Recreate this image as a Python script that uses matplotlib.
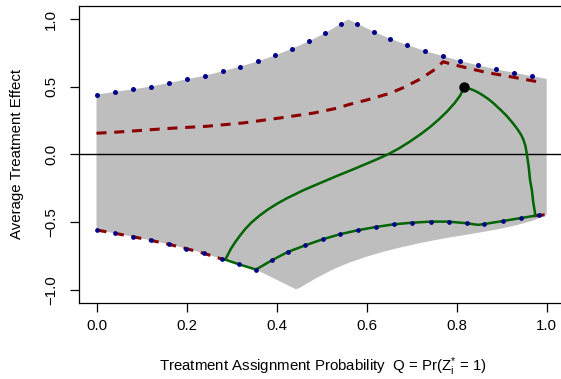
import matplotlib
matplotlib.use("Agg")
import matplotlib.pyplot as plt

plt.rcParams['font.family'] = ['Liberation Sans', 'DejaVu Sans']
plt.rcParams['mathtext.fontset'] = 'custom'
plt.rcParams['mathtext.rm'] = 'Liberation Sans'
plt.rcParams['mathtext.it'] = 'Liberation Sans'
plt.rcParams['lines.scale_dashes'] = False

# ---- data ----
# gray region: upper boundary (left -> right)
region_upper_x = [0.0, 0.040, 0.080, 0.120, 0.161, 0.200, 0.240, 0.280, 0.319, 0.359, 0.397,
                  0.435, 0.472, 0.508, 0.543, 0.559, 0.579, 0.616, 0.652, 0.690, 0.730,
                  0.769, 0.808, 0.847, 0.887, 0.927, 0.967, 1.0]
region_upper_y = [0.442, 0.462, 0.481, 0.501, 0.528, 0.555, 0.582, 0.614, 0.649, 0.688, 0.732,
                  0.782, 0.836, 0.897, 0.966, 0.998, 0.966, 0.907, 0.855, 0.809, 0.764,
                  0.727, 0.690, 0.659, 0.629, 0.604, 0.578, 0.558]
# gray region: lower boundary (left -> right)
region_lower_x = [0.0, 0.040, 0.080, 0.120, 0.160, 0.199, 0.238, 0.278, 0.317, 0.354, 0.400,
                  0.443, 0.452, 0.489, 0.526, 0.563, 0.600, 0.637, 0.674, 0.711, 0.748,
                  0.785, 0.822, 0.859, 0.896, 0.933, 0.970, 1.0]
region_lower_y = [-0.558, -0.582, -0.607, -0.634, -0.663, -0.695, -0.730, -0.772, -0.812, -0.850, -0.925,
                  -0.996, -0.984, -0.912, -0.848, -0.797, -0.755, -0.719, -0.688, -0.660, -0.635,
                  -0.613, -0.593, -0.572, -0.550, -0.522, -0.488, -0.447]

# blue dotted bounds
upper_dots_x = [0.0, 0.040, 0.080, 0.120, 0.161, 0.200, 0.240, 0.280, 0.319, 0.359, 0.397,
                0.435, 0.472, 0.508, 0.543, 0.579, 0.616, 0.652, 0.690, 0.730, 0.769,
                0.808, 0.847, 0.887, 0.927, 0.967]
upper_dots_y = [0.442, 0.462, 0.481, 0.501, 0.528, 0.555, 0.582, 0.614, 0.649, 0.688, 0.732,
                0.782, 0.836, 0.897, 0.966, 0.966, 0.907, 0.855, 0.809, 0.764, 0.727,
                0.690, 0.659, 0.629, 0.604, 0.578]
lower_dots_x = [0.0, 0.040, 0.080, 0.120, 0.160, 0.199, 0.238, 0.278, 0.317, 0.354, 0.390,
                0.425, 0.463, 0.502, 0.541, 0.580, 0.620, 0.660, 0.701, 0.742, 0.782,
                0.822, 0.861, 0.902, 0.942, 0.984]
lower_dots_y = [-0.558, -0.582, -0.607, -0.634, -0.663, -0.695, -0.730, -0.772, -0.812, -0.850, -0.781,
                -0.720, -0.672, -0.627, -0.589, -0.560, -0.536, -0.516, -0.504, -0.496, -0.496,
                -0.508, -0.514, -0.492, -0.470, -0.449]

# red dashed bounds
red_upper_x = [0.0, 0.040, 0.163, 0.244, 0.326, 0.408, 0.482, 0.533, 0.563, 0.600, 0.652,
               0.681, 0.718, 0.752, 0.770, 0.785, 0.826, 0.867, 0.907, 0.948, 0.992]
red_upper_y = [0.157, 0.164, 0.193, 0.208, 0.233, 0.270, 0.306, 0.341, 0.371, 0.402, 0.452,
               0.493, 0.555, 0.629, 0.685, 0.670, 0.637, 0.605, 0.582, 0.557, 0.530]
red_lower_x = [0.0, 0.040, 0.080, 0.120, 0.160, 0.199, 0.238, 0.278, 0.286]
red_lower_y = [-0.558, -0.582, -0.607, -0.634, -0.663, -0.695, -0.730, -0.772, -0.777]
red_end_x = [0.975, 0.992]
red_end_y = [-0.452, -0.447]

# green path: lower segment, right branch up to the point, left branch back down
green_x = [0.286, 0.317, 0.354, 0.390, 0.425, 0.463, 0.502, 0.541, 0.580, 0.620, 0.660,
           0.701, 0.742, 0.782, 0.822, 0.848, 0.861, 0.902, 0.942, 0.975,
           0.970, 0.967, 0.963, 0.960, 0.956, 0.953, 0.948, 0.942, 0.935, 0.927, 0.919,
           0.910, 0.900, 0.891, 0.882, 0.871, 0.860, 0.849, 0.838, 0.827, 0.817,
           0.807, 0.795, 0.778, 0.760, 0.741, 0.720, 0.696, 0.672, 0.648, 0.622,
           0.600, 0.570, 0.533, 0.496, 0.459, 0.422, 0.400, 0.380, 0.362, 0.345,
           0.331, 0.319, 0.308, 0.298, 0.286]
green_y = [-0.777, -0.812, -0.850, -0.781, -0.720, -0.672, -0.627, -0.589, -0.560, -0.536, -0.516,
           -0.504, -0.496, -0.496, -0.508, -0.520, -0.514, -0.492, -0.470, -0.452,
           -0.350, -0.262, -0.188, -0.090, 0.000, 0.060, 0.112, 0.152, 0.187, 0.222, 0.255,
           0.289, 0.322, 0.350, 0.378, 0.408, 0.433, 0.456, 0.474, 0.488, 0.496,
           0.432, 0.378, 0.315, 0.258, 0.203, 0.150, 0.095, 0.045, 0.002, -0.037,
           -0.068, -0.110, -0.160, -0.212, -0.265, -0.325, -0.366, -0.408, -0.452, -0.500,
           -0.548, -0.598, -0.648, -0.700, -0.777]

point_x = [0.817]
point_y = [0.496]

xticks = [0.0, 0.2, 0.4, 0.6, 0.8, 1.0]
xtick_labels = ["0.0", "0.2", "0.4", "0.6", "0.8", "1.0"]
yticks = [-1.0, -0.5, 0.0, 0.5, 1.0]
ytick_labels = ["\u22121.0", "\u22120.5", "0.0", "0.5", "1.0"]

# ---- figure ----
W, H = 561, 379
fig = plt.figure(figsize=(W / 100, H / 100), dpi=100)
left_px, right_px, top_px, bottom_px = 78.5, 564.7, 5.7, 302.7
ax = fig.add_axes([left_px / W, 1 - bottom_px / H, (right_px - left_px) / W, (bottom_px - top_px) / H])
ax.set_xlim(-0.04, 1.04)
ax.set_ylim(-1.095, 1.099)

poly_x = list(region_upper_x) + list(region_lower_x[::-1])
poly_y = list(region_upper_y) + list(region_lower_y[::-1])
ax.fill(poly_x, poly_y, color='#BEBEBE', lw=0, zorder=1)

ax.axhline(0, color='black', lw=1.0, zorder=2)

ax.plot(red_upper_x, red_upper_y, color='#8B0000', lw=2.2, dashes=(7.2, 5.6), zorder=3)
ax.plot(red_lower_x, red_lower_y, color='#8B0000', lw=2.2, dashes=(7.2, 5.6), zorder=3)
ax.plot(red_end_x, red_end_y, color='#8B0000', lw=2.2, zorder=3)

ax.plot(green_x, green_y, color='#006400', lw=1.8, zorder=4,
        solid_joinstyle='round', solid_capstyle='round')

ax.plot(upper_dots_x, upper_dots_y, 'o', color='#00008B', ms=3.6, mew=0, zorder=5)
ax.plot(lower_dots_x, lower_dots_y, 'o', color='#00008B', ms=3.4, mew=0, zorder=5)

ax.plot(point_x, point_y, 'o', color='black', ms=7.5, mew=0, zorder=6)

ax.set_xticks(xticks)
ax.set_xticklabels(xtick_labels)
ax.set_yticks(yticks)
ax.set_yticklabels(ytick_labels, rotation=90, va='center')

for s in ax.spines.values():
    s.set_linewidth(0.9)
ax.tick_params(axis='both', direction='out', length=6.5, width=0.9, labelsize=10.8, colors='black')
ax.tick_params(axis='x', pad=5)
ax.tick_params(axis='y', pad=8)

fig.text(17 / W, 1 - 154 / H, "Average Treatment Effect", rotation=90, ha='center', va='center', fontsize=10.8)
fig.text(323 / W, 1 - 367 / H,
         r"Treatment Assignment Probability  Q = Pr($\mathrm{Z}_{\mathrm{i}}^{*}$ = 1)",
         ha='center', va='center', fontsize=10.8)

fig.savefig("out.png", dpi=100)
